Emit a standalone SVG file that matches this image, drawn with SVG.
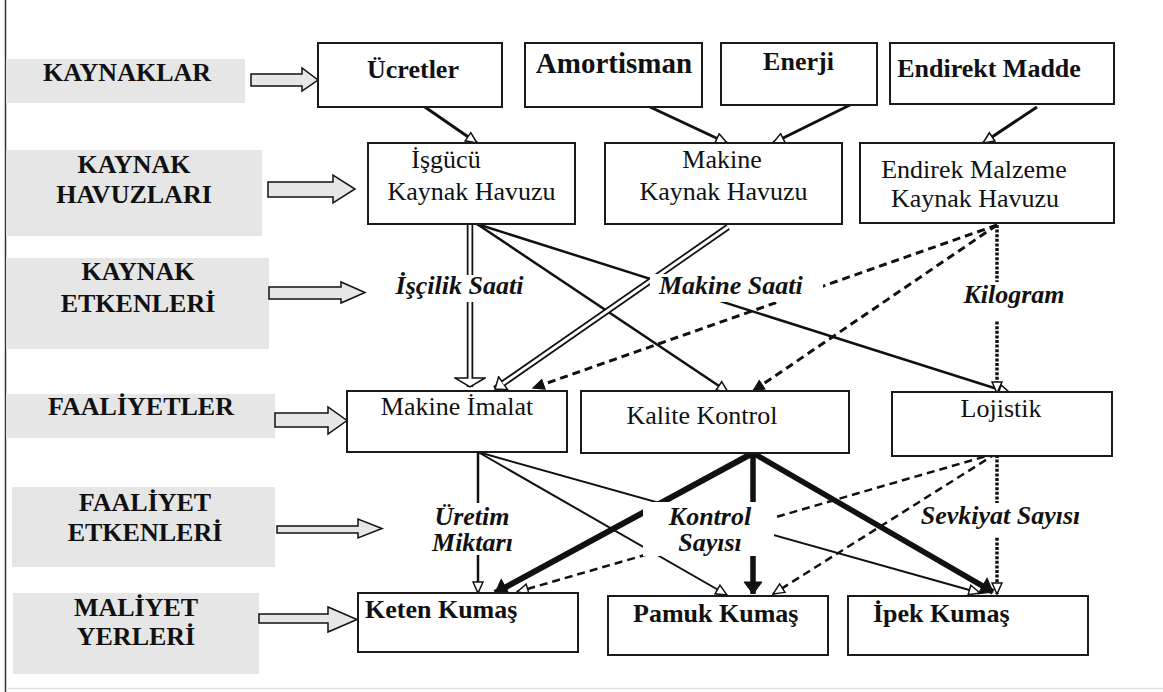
<svg xmlns="http://www.w3.org/2000/svg" width="1163" height="692" viewBox="0 0 1163 692">
  <style>
    text { font-family: 'Liberation Serif', 'DejaVu Serif', serif; fill: #111; }
    .band { fill: #e6e6e6; }
    .band-t { font-weight: bold; font-size: 26px; text-anchor: middle; }
    .block { fill: #e6e6e6; stroke: #111; stroke-width: 1.5; stroke-linejoin: miter; }
    .box { fill: #fff; stroke: #1a1a1a; stroke-width: 2; }
    .tb { font-weight: bold; font-size: 26px; }
    .tr { font-size: 26px; }
    .ti { font-weight: bold; font-style: italic; font-size: 26px; }
    .mid { text-anchor: middle; }
    .ln { fill: none; stroke: #111; stroke-linecap: butt; }
    .dash { stroke-dasharray: 8 5; }
    .dot { stroke-dasharray: 3 1.6; }
    .dbl-o { fill: none; stroke: #111; stroke-width: 6.5; }
    .dbl-i { fill: none; stroke: #fff; stroke-width: 3; }
    .lblbg { fill: #fff; }
  </style>
  <defs>
    <marker id="hollow" viewBox="0 0 13 12" refX="12" refY="6" markerWidth="13" markerHeight="12" markerUnits="userSpaceOnUse" orient="auto">
      <path d="M1,1 L12,6 L1,11 Z" fill="#fff" stroke="#111" stroke-width="1.5" stroke-dasharray="none"/>
    </marker>
    <marker id="filled" viewBox="0 0 13 12" refX="12" refY="6" markerWidth="13" markerHeight="12" markerUnits="userSpaceOnUse" orient="auto">
      <path d="M1,1 L12,6 L1,11 Z" fill="#111" stroke="#111" stroke-width="1.2" stroke-dasharray="none"/>
    </marker>
    <marker id="filledBig" viewBox="0 0 14 20" refX="13" refY="10" markerWidth="14" markerHeight="20" markerUnits="userSpaceOnUse" orient="auto">
      <path d="M1,1 L13,10 L1,19 Z" fill="#111" stroke="#111" stroke-width="1" stroke-dasharray="none"/>
    </marker>
    <marker id="wide" viewBox="0 0 11 32" refX="10" refY="16" markerWidth="11" markerHeight="32" markerUnits="userSpaceOnUse" orient="auto">
      <path d="M1,1 L10,16 L1,31 Z" fill="#fff" stroke="#111" stroke-width="1.5"/>
    </marker>
    <marker id="mid" viewBox="0 0 12 18" refX="11" refY="9" markerWidth="12" markerHeight="18" markerUnits="userSpaceOnUse" orient="auto">
      <path d="M1,1 L11,9 L1,17 Z" fill="#fff" stroke="#111" stroke-width="1.5"/>
    </marker>
  </defs>

  <rect width="1163" height="692" fill="#fff"/>
  <!-- frame edges -->
  <line x1="5.5" y1="0" x2="5.5" y2="692" stroke="#333" stroke-width="1.5"/>
  <line x1="6" y1="688.5" x2="1163" y2="688.5" stroke="#e2e2e2" stroke-width="1.5"/>

  <!-- level bands -->
  <g id="band-kaynaklar">
    <rect class="band" x="6" y="59" width="239" height="44"/>
    <text class="band-t" x="127" y="81">KAYNAKLAR</text>
    <polygon class="block" points="251,74 302,74 302,68 318,80 302,91 302,86 251,86"/>
  </g>
  <g id="band-havuzlar">
    <rect class="band" x="6" y="150" width="256" height="86"/>
    <text class="band-t" x="134" y="173">KAYNAK</text>
    <text class="band-t" x="134" y="203">HAVUZLARI</text>
    <polygon class="block" points="268,182 333,182 333,175 355,189 333,203 333,197 268,197"/>
  </g>
  <g id="band-kaynak-etkenleri">
    <rect class="band" x="6" y="258" width="263" height="91"/>
    <text class="band-t" x="138" y="280">KAYNAK</text>
    <text class="band-t" x="138" y="312">ETKENLERİ</text>
    <polygon class="block" points="269,287 341,287 341,282 365,292.5 341,303 341,299 269,299"/>
  </g>
  <g id="band-faaliyetler">
    <rect class="band" x="6" y="394" width="269" height="44"/>
    <text class="band-t" x="141" y="415">FAALİYETLER</text>
    <polygon class="block" points="275,413 328,413 328,407 347,420.5 328,434 328,427 275,427"/>
  </g>
  <g id="band-faaliyet-etkenleri">
    <rect class="band" x="12" y="487" width="263" height="80"/>
    <text class="band-t" x="145" y="511">FAALİYET</text>
    <text class="band-t" x="145" y="541">ETKENLERİ</text>
    <polygon class="block" points="277,526 358,526 358,519 382,528.5 358,538 358,533 277,533"/>
  </g>
  <g id="band-maliyet-yerleri">
    <rect class="band" x="13" y="593" width="246" height="81"/>
    <text class="band-t" x="136" y="616">MALİYET</text>
    <text class="band-t" x="136" y="645">YERLERİ</text>
    <polygon class="block" points="259,614 328,614 328,607 357,619.5 328,632 328,623 259,623"/>
  </g>

  <!-- connectors -->
  <g id="connectors">
    <!-- resources to pools -->
    <line class="ln" x1="422" y1="105" x2="477" y2="143" stroke-width="3" marker-end="url(#hollow)"/>
    <line class="ln" x1="650" y1="107" x2="727" y2="143" stroke-width="3" marker-end="url(#hollow)"/>
    <line class="ln" x1="850" y1="105" x2="773" y2="143" stroke-width="3" marker-end="url(#hollow)"/>
    <line class="ln" x1="1037" y1="107" x2="983" y2="143" stroke-width="3" marker-end="url(#hollow)"/>

    <!-- pools to activities -->
    <line class="dbl-o" x1="470" y1="224" x2="470" y2="387" marker-end="url(#wide)"/>
    <line class="dbl-i" x1="470" y1="224" x2="470" y2="379"/>
    <line class="ln" x1="477" y1="224" x2="728" y2="392" stroke-width="2.5" marker-end="url(#hollow)"/>
    <line class="ln" x1="477" y1="224" x2="1010" y2="393" stroke-width="2.5" marker-end="url(#hollow)"/>
    <line class="dbl-o" x1="728" y1="227" x2="495" y2="389" marker-end="url(#mid)"/>
    <line class="dbl-i" x1="728" y1="227" x2="503" y2="383.5"/>
    <line class="ln dash" x1="997" y1="225" x2="533" y2="388" stroke-width="3" marker-end="url(#filled)"/>
    <line class="ln dash" x1="997" y1="225" x2="753" y2="391" stroke-width="3" marker-end="url(#filled)"/>
    <line class="ln dot" x1="997" y1="225" x2="997" y2="393" stroke-width="3.5" marker-end="url(#hollow)"/>

    <!-- activities to cost objects -->
    <line class="ln" x1="478" y1="452" x2="478" y2="593" stroke-width="2.5" marker-end="url(#hollow)"/>
    <line class="ln" x1="478" y1="452" x2="727" y2="595" stroke-width="2" marker-end="url(#hollow)"/>
    <line class="ln" x1="478" y1="452" x2="980" y2="593" stroke-width="2" marker-end="url(#hollow)"/>
    <line class="ln" x1="753" y1="453" x2="495" y2="593" stroke-width="6" marker-end="url(#filledBig)"/>
    <line class="ln" x1="753" y1="453" x2="753" y2="594" stroke-width="5.5" marker-end="url(#filledBig)"/>
    <line class="ln" x1="753" y1="453" x2="993" y2="592" stroke-width="5.5" marker-end="url(#filledBig)"/>
    <line class="ln" x1="754" y1="454" x2="984" y2="587" stroke="#1c3372" stroke-width="3"/>
    <line class="ln dash" x1="997" y1="453" x2="517" y2="592" stroke-width="2.5" marker-end="url(#hollow)"/>
    <line class="ln dash" x1="997" y1="453" x2="773" y2="594" stroke-width="2.5" marker-end="url(#hollow)"/>
    <line class="ln dot" x1="997" y1="455" x2="997" y2="594" stroke-width="3.5" marker-end="url(#hollow)"/>
  </g>

  <!-- driver labels -->
  <g id="label-iscilik">
    <rect class="lblbg" x="392" y="275" width="135" height="27"/>
    <text class="ti mid" x="459.5" y="294">İşçilik Saati</text>
  </g>
  <g id="label-makine-saati">
    <rect class="lblbg" x="650" y="274" width="173" height="28"/>
    <text class="ti" x="659" y="294">Makine Saati</text>
  </g>
  <g id="label-kilogram">
    <rect class="lblbg" x="960" y="282" width="108" height="38"/>
    <text class="ti mid" x="1014" y="303">Kilogram</text>
  </g>
  <g id="label-uretim">
    <rect class="lblbg" x="428" y="503" width="90" height="52"/>
    <text class="ti mid" x="472" y="525">Üretim</text>
    <text class="ti mid" x="472.5" y="551">Miktarı</text>
  </g>
  <g id="label-kontrol">
    <rect class="lblbg" x="643" y="502" width="131" height="54"/>
    <text class="ti mid" x="710" y="525">Kontrol</text>
    <text class="ti mid" x="710" y="551">Sayısı</text>
  </g>
  <g id="label-sevkiyat">
    <rect class="lblbg" x="921" y="503" width="161" height="34"/>
    <text class="ti mid" x="1000.5" y="524">Sevkiyat Sayısı</text>
  </g>

  <!-- resources -->
  <g id="ucretler">
    <rect class="box" x="318" y="43" width="184" height="64"/>
    <text class="tb mid" x="413" y="78">Ücretler</text>
  </g>
  <g id="amortisman">
    <rect class="box" x="525" y="43" width="177" height="64"/>
    <text class="tb mid" x="614" y="73" style="font-size:29px">Amortisman</text>
  </g>
  <g id="enerji">
    <rect class="box" x="721" y="43" width="156" height="62"/>
    <text class="tb mid" x="798.5" y="70">Enerji</text>
  </g>
  <g id="endirekt-madde">
    <rect class="box" x="890" y="43" width="224" height="61"/>
    <text class="tb mid" x="989" y="77">Endirekt Madde</text>
  </g>

  <!-- resource pools -->
  <g id="isgucu-havuzu">
    <rect class="box" x="368" y="143" width="207" height="81"/>
    <text class="tr mid" x="446" y="168">İşgücü</text>
    <text class="tr mid" x="471.5" y="200">Kaynak Havuzu</text>
  </g>
  <g id="makine-havuzu">
    <rect class="box" x="605" y="143" width="237" height="81"/>
    <text class="tr mid" x="722" y="168">Makine</text>
    <text class="tr mid" x="723.5" y="200">Kaynak Havuzu</text>
  </g>
  <g id="malzeme-havuzu">
    <rect class="box" x="860" y="143" width="254" height="80"/>
    <text class="tr mid" x="974" y="178">Endirek Malzeme</text>
    <text class="tr mid" x="975" y="207">Kaynak Havuzu</text>
  </g>

  <!-- activities -->
  <g id="makine-imalat">
    <rect class="box" x="347" y="391" width="220" height="61"/>
    <text class="tr mid" x="457" y="415">Makine İmalat</text>
  </g>
  <g id="kalite-kontrol">
    <rect class="box" x="581" y="391" width="268" height="62"/>
    <text class="tr mid" x="702" y="424">Kalite Kontrol</text>
  </g>
  <g id="lojistik">
    <rect class="box" x="892" y="392" width="220" height="64"/>
    <text class="tr mid" x="1001" y="417">Lojistik</text>
  </g>

  <!-- cost objects -->
  <g id="keten-kumas">
    <rect class="box" x="358" y="593" width="220" height="59"/>
    <text class="tb" x="365" y="618">Keten Kumaş</text>
  </g>
  <g id="pamuk-kumas">
    <rect class="box" x="608" y="596" width="220" height="59"/>
    <text class="tb" x="633" y="622">Pamuk Kumaş</text>
  </g>
  <g id="ipek-kumas">
    <rect class="box" x="848" y="596" width="240" height="59"/>
    <text class="tb" x="873" y="622">İpek Kumaş</text>
  </g>
</svg>
